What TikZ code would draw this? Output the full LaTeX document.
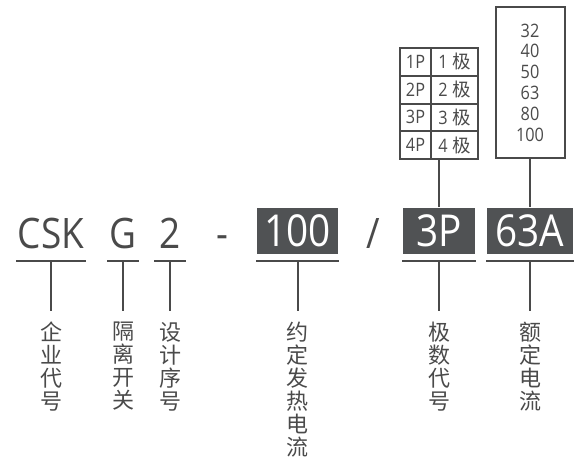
\documentclass[tikz,border=0pt]{standalone}
\usepackage{fontspec}
\setmainfont[FakeStretch=0.88]{Open Sans}
\newfontfamily\cjk{Noto Sans CJK SC}
\definecolor{ink}{HTML}{4A4A4A}
\definecolor{boxfill}{HTML}{505254}
\begin{document}
\begin{tikzpicture}[x=1pt,y=-1pt,
  line width=2pt, draw=ink,
  code/.style={font=\fontsize{42}{42}\selectfont, text=ink, anchor=base, inner xsep=0pt, inner ysep=12pt, text depth=0pt},
  codebox/.style={fill=boxfill, text=white, font=\fontsize{44}{44}\selectfont, minimum height=46pt, inner sep=0pt},
  lab/.style={font=\cjk\fontsize{22}{23}\selectfont, align=center, anchor=north, inner xsep=0pt, inner ysep=10pt, text=ink},
  cellL/.style={draw=ink, minimum width=31pt, minimum height=27.75pt, inner sep=0pt, text=ink, font=\fontsize{18.5}{18.5}\selectfont},
  cellR/.style={draw=ink, minimum width=47pt, minimum height=27.75pt, inner sep=0pt, text=ink, font=\fontsize{18.5}{18.5}\selectfont},
  curbox/.style={draw=ink, minimum width=69pt, minimum height=151pt, inner sep=0pt, align=center, text=ink, font=\fontsize{18.5}{20.8}\selectfont},
  sep/.style={font=\fontsize{42}{42}\selectfont, text=ink, anchor=base, inner sep=0pt}
]
\useasboundingbox (0,0) rectangle (583,469);

% code parts
\node[code, minimum width=68pt] (csk) at (51,248) {CSK};
\node[code, minimum width=30pt] (g) at (123,248) {G};
\node[code, minimum width=30pt] (two) at (170,248) {2};
\node[sep] (dash) at (222,248) {-};
\node[codebox, minimum width=81pt] (b100) at (297.5,231) {100};
\node[sep] (slash) at (373,248) {/};
\node[codebox, minimum width=72pt] (b3P) at (439,231) {3P};
\node[codebox, minimum width=86pt] (b63A) at (530,231) {63A};

% underlines
\draw (csk.south west) -- (csk.south east);
\draw (g.south west) -- (g.south east);
\draw (two.south west) -- (two.south east);
\draw ([yshift=-6pt]b100.south west) -- ([yshift=-6pt]b100.south east);
\draw ([yshift=-6pt]b3P.south west) -- ([yshift=-6pt]b3P.south east);
\draw ([yshift=-6pt]b63A.south west) -- ([yshift=-6pt]b63A.south east);

% labels
\node[lab] (lcsk) at (51,311) {企\\业\\代\\号};
\node[lab] (lg) at (123,311) {隔\\离\\开\\关};
\node[lab] (ltwo) at (170,311) {设\\计\\序\\号};
\node[lab] (l100) at (297.5,311) {约\\定\\发\\热\\电\\流};
\node[lab] (l3P) at (439,311) {极\\数\\代\\号};
\node[lab] (l63A) at (530,311) {额\\定\\电\\流};

\draw (csk.south) -- (lcsk.north);
\draw (g.south) -- (lg.north);
\draw (two.south) -- (ltwo.north);
\draw ([yshift=-6pt]b100.south) -- (l100.north);
\draw ([yshift=-6pt]b3P.south) -- (l3P.north);
\draw ([yshift=-6pt]b63A.south) -- (l63A.north);

% pole table
\node[cellL] (r1l) at (415.5,61.875) {1P};
\node[cellR] (r1r) at (454.5,61.875) {1 {\cjk 极}};
\node[cellL] (r2l) at (415.5,89.625) {2P};
\node[cellR] (r2r) at (454.5,89.625) {2 {\cjk 极}};
\node[cellL] (r3l) at (415.5,117.375) {3P};
\node[cellR] (r3r) at (454.5,117.375) {3 {\cjk 极}};
\node[cellL] (r4l) at (415.5,145.125) {4P};
\node[cellR] (r4r) at (454.5,145.125) {4 {\cjk 极}};
\draw (b3P.north) -- (b3P.north |- r4l.south);

% current box
\node[curbox] (cur) at (530,82.5) {32\\40\\50\\63\\80\\100};
\draw (b63A.north) -- (cur.south);
\end{tikzpicture}
\end{document}
